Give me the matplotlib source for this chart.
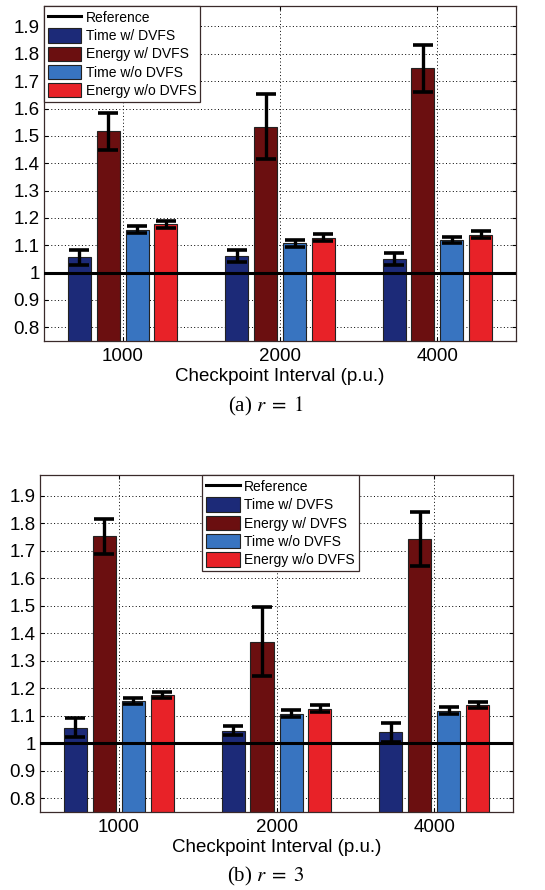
import matplotlib.pyplot as plt
import numpy as np

plt.rcParams['font.family'] = ['Liberation Sans', 'DejaVu Sans']
plt.rcParams['mathtext.fontset'] = 'stix'

intervals = ['1000', '2000', '4000']
series = ['Time w/ DVFS', 'Energy w/ DVFS', 'Time w/o DVFS', 'Energy w/o DVFS']
colors = ['#1c2a78', '#6b0f10', '#3874c0', '#e82228']

# panel (a) r = 1
vals_a = [[1.056, 1.060, 1.049],
          [1.516, 1.533, 1.747],
          [1.157, 1.108, 1.119],
          [1.176, 1.127, 1.139]]
errs_a = [[0.028, 0.023, 0.022],
          [0.069, 0.119, 0.085],
          [0.012, 0.013, 0.012],
          [0.013, 0.013, 0.012]]

# panel (b) r = 3
vals_b = [[1.056, 1.046, 1.040],
          [1.752, 1.369, 1.742],
          [1.155, 1.107, 1.118],
          [1.175, 1.125, 1.138]]
errs_b = [[0.035, 0.017, 0.034],
          [0.063, 0.125, 0.097],
          [0.011, 0.013, 0.012],
          [0.011, 0.013, 0.011]]

yticks = [0.8, 0.9, 1.0, 1.1, 1.2, 1.3, 1.4, 1.5, 1.6, 1.7, 1.8, 1.9]
ytick_labels = ['0.8', '0.9', '1', '1.1', '1.2', '1.3', '1.4', '1.5', '1.6', '1.7', '1.8', '1.9']

fig = plt.figure(figsize=(5.45, 8.9), dpi=100)


def draw_panel(ax, vals, errs, legend_loc, legend_anchor):
    x = np.arange(1, len(intervals) + 1)
    offsets = [-0.275, -0.092, 0.092, 0.275]
    handles = []
    ref, = ax.plot([0.5, 3.5], [1, 1], color='black', lw=2.2, zorder=5, label='Reference')
    handles.append(ref)
    for i in range(len(series)):
        b = ax.bar(x + offsets[i], vals[i], width=0.146, bottom=0, color=colors[i],
                   edgecolor='#222222', linewidth=0.8, zorder=2, label=series[i])
        ax.errorbar(x + offsets[i], vals[i], yerr=errs[i], fmt='none', ecolor='black',
                    elinewidth=2.4, capsize=7.5, capthick=2.6, zorder=6)
        handles.append(b)
    ax.set_xlim(0.5, 3.5)
    ax.set_ylim(0.75, 1.975)
    ax.set_xticks(x)
    ax.set_xticklabels(intervals)
    ax.set_yticks(yticks)
    ax.set_yticklabels(ytick_labels)
    ax.tick_params(labelsize=13.5, direction='in', length=3, top=True, right=True, pad=3)
    ax.tick_params(axis='x', pad=5)
    ax.grid(True, color='black', linestyle=(0, (1, 2.5)), linewidth=0.7, zorder=0)
    ax.set_axisbelow(True)
    for s in ax.spines.values():
        s.set_color('#3a2a2a')
        s.set_linewidth(0.9)
    ax.set_xlabel('Checkpoint Interval (p.u.)', fontsize=13.5, labelpad=2)
    leg = ax.legend(handles=handles, loc=legend_loc, bbox_to_anchor=legend_anchor,
                    fontsize=10, fancybox=False, framealpha=1, edgecolor='#3a2a2a',
                    borderaxespad=0, handlelength=2.4, handleheight=1.2,
                    handletextpad=0.3, labelspacing=0.25, borderpad=0.3)
    leg.get_frame().set_linewidth(0.9)
    leg.set_zorder(10)


ax1 = fig.add_axes([0.0807, 0.6169, 0.8663, 0.3764])
draw_panel(ax1, vals_a, errs_a, 'upper left', (0, 1))
fig.text(0.487, 0.543, r'(a) $r\;=\;1$', ha='center', va='center', fontsize=15,
         family=['Liberation Serif'])

ax2 = fig.add_axes([0.0734, 0.0876, 0.8679, 0.3787])
draw_panel(ax2, vals_b, errs_b, 'upper center', (0.508, 1))
fig.text(0.487, 0.015, r'(b) $r\;=\;3$', ha='center', va='center', fontsize=15,
         family=['Liberation Serif'])

fig.savefig('out.png', dpi=100)
